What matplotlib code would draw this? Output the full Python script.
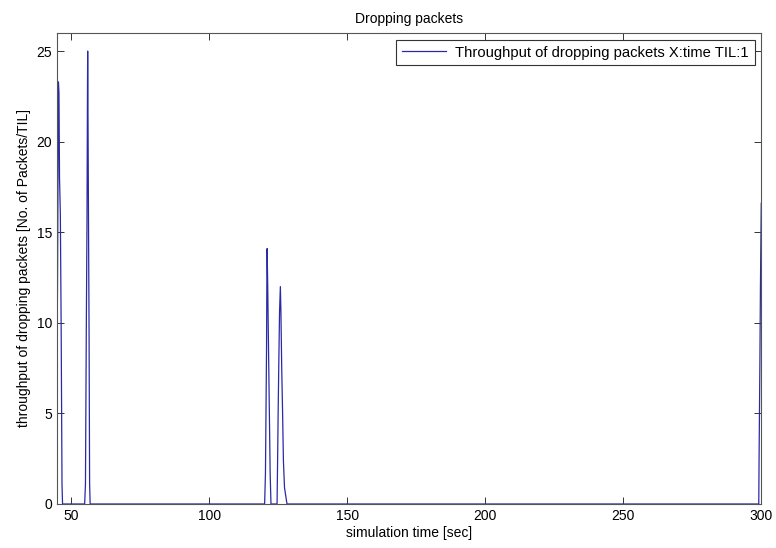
import matplotlib.pyplot as plt

# dropped packets per TIL
time = [44.9, 45.1, 45.4, 45.6, 45.8, 46.1, 46.4, 46.7, 46.9,
        54.9, 55.2, 55.5, 55.75, 55.9, 56.0, 56.1, 56.3, 56.5, 56.7, 56.9,
        120.1, 120.4, 120.6, 120.8, 120.9, 121.0, 121.2, 121.5, 121.8, 122.1, 122.4,
        124.6, 124.8, 125.0, 125.2, 125.5, 125.8, 126.0, 126.3, 126.6, 126.9, 127.3, 128.2,
        299.1, 299.2, 299.5, 299.7, 300.0]
dropped = [7.7, 13.0, 23.3, 22.7, 18.0, 16.0, 9.6, 1.1, 0,
           0, 1.1, 9.6, 15.6, 21.9, 25.0, 21.9, 15.6, 9.6, 1.1, 0,
           0, 1.7, 5.2, 8.7, 12.2, 14.1, 12.2, 8.7, 5.2, 1.7, 0,
           0, 2.4, 5.1, 7.4, 10.6, 12.0, 10.6, 7.4, 5.1, 2.4, 0.9, 0,
           0, 2.3, 7.7, 11.9, 16.6]
xticks = [50, 100, 150, 200, 250, 300]
yticks = [0, 5, 10, 15, 20, 25]

plt.rcParams['font.family'] = ['Liberation Sans', 'DejaVu Sans']
plt.rcParams['font.size'] = 10

fig = plt.figure(figsize=(7.76, 5.48), dpi=100)
ax = fig.add_axes([0.0735, 0.0803, 0.9075, 0.8595])

ax.plot(time, dropped, color='#2a2aa6', linewidth=0.9,
        label='Throughput of dropping packets X:time TIL:1')

ax.set_xlim(44.9, 300)
ax.set_ylim(0, 26)
ax.set_xticks(xticks)
ax.set_yticks(yticks)
ax.tick_params(direction='in', top=True, right=True, length=5, width=0.7, colors='#333333', labelcolor='black')
for s in ax.spines.values():
    s.set_color('#555555')
    s.set_linewidth(0.8)

ax.set_title('Dropping packets', fontsize=10, pad=7)
ax.set_xlabel('simulation time [sec]', labelpad=2)
ax.set_ylabel('throughput of dropping packets [No. of Packets/TIL]', labelpad=4)

leg = ax.legend(loc='upper right', fancybox=False, framealpha=1, borderaxespad=0.45,
                handlelength=3.0, handletextpad=0.6, borderpad=0.4, fontsize=10.6)
leg.get_frame().set_edgecolor('#333333')
leg.get_frame().set_linewidth(0.8)

fig.savefig('out.png', dpi=100)
